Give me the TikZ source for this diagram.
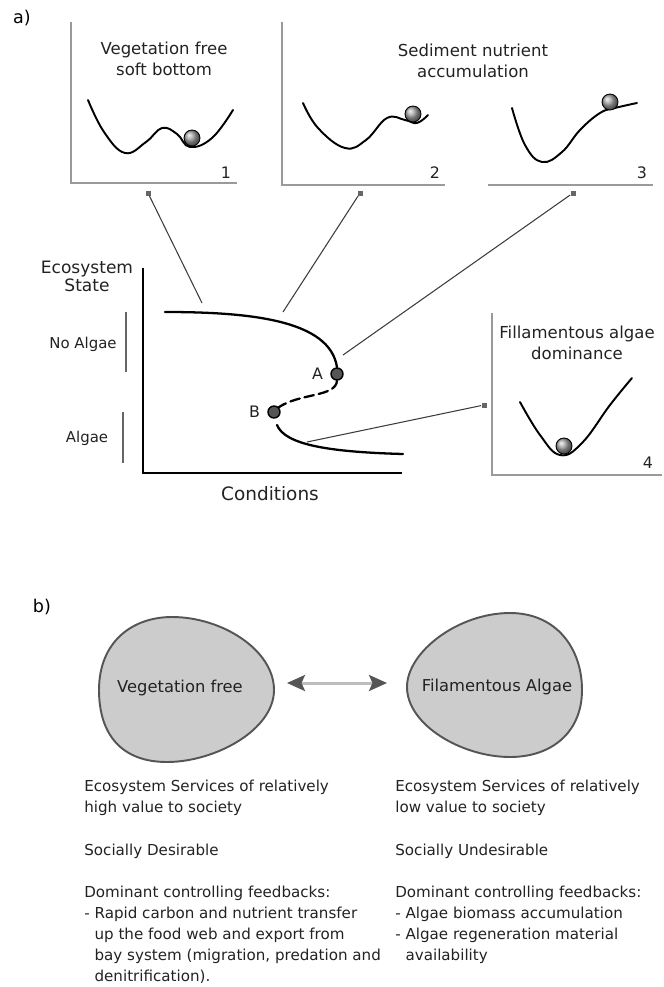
\documentclass[tikz,border=0pt]{standalone}
\usepackage{fontspec}
\setmainfont{DejaVu Sans}
\usetikzlibrary{arrows.meta,positioning}
\definecolor{axGray}{HTML}{9A9A9A}
\definecolor{inkDark}{HTML}{222222}
\definecolor{leadGray}{HTML}{3C3C3C}
\definecolor{blobFill}{HTML}{CCCCCC}
\definecolor{blobEdge}{HTML}{555555}
\definecolor{shaftGray}{HTML}{BDBDBD}
\definecolor{tipGray}{HTML}{555555}
\newcommand{\titlesize}{\fontsize{9.4}{11.8}\selectfont}
\newcommand{\capsize}{\fontsize{8.6}{12}\selectfont}
\tikzset{
  paneltitle/.style={align=center,font=\titlesize,text=inkDark,inner sep=0pt},
  panelnum/.style={font=\fontsize{9}{10}\selectfont,text=inkDark,inner sep=0pt},
  panelaxis/.style={draw=axGray,line width=1.2pt},
  wellcurve/.style={draw=black,line width=1.1pt,line cap=round},
  marble/.style={circle,draw=black,line width=0.5pt,ball color=gray!70,
    minimum size=0.32cm,inner sep=0pt},
  sqmark/.style={rectangle,fill=gray!80!black,minimum size=0.1cm,inner sep=0pt},
  leader/.style={draw=leadGray,line width=0.6pt},
  mainaxis/.style={draw=black,line width=1.4pt},
  branch/.style={draw=black,line width=1.3pt,line cap=round},
  statedot/.style={circle,draw=black,fill=tipGray,line width=0.8pt,
    minimum size=0.24cm,inner sep=0pt},
  dotlabel/.style={font=\fontsize{9}{10}\selectfont,text=inkDark,inner sep=0pt},
  axlabel/.style={align=center,text=inkDark,inner sep=0pt},
  rangebar/.style={draw=gray!80!black,line width=0.8pt},
  blob/.style={draw=blobEdge,fill=blobFill,line width=1.1pt},
  blobtext/.style={font=\fontsize{9.3}{11}\selectfont,text=inkDark},
  caption/.style={anchor=north west,align=left,inner sep=0pt,font=\capsize,text=inkDark},
  swaparrow/.style={draw=shaftGray,line width=1.7pt,
    >={Stealth[length=0.36cm,width=0.32cm,inset=0.07cm,color=tipGray]},<->}
}

\begin{document}
\begin{tikzpicture}[x=0.02cm,y=-0.02cm]
  \useasboundingbox (0,0) rectangle (663,987);

  % a) landscapes
  \node[font=\fontsize{10}{12}\selectfont] (parta) at (22,18) {a)};
  \draw[panelaxis] (71,22) -- (71,183) -- (237,183);
  \draw[panelaxis] (282,22) -- (282,185) -- (445,185);
  \draw[panelaxis] (488,185) -- (653,185);
  \draw[panelaxis] (492,313) -- (492,475) -- (662,475);

  \node[paneltitle] (t1) at (164,59) {Vegetation free\\soft bottom};
  \node[paneltitle] (t2) at (473,61) {Sediment nutrient\\accumulation};
  \node[paneltitle] (t4) at (577,343) {Fillamentous algae\\dominance};

  \draw[wellcurve] plot[smooth,tension=0.7] coordinates {(88,100) (104,132) (125,153)
    (146,142) (162,128) (177,134) (190,147) (212,138) (233,110)};
  \draw[wellcurve] plot[smooth,tension=0.7] coordinates {(303,103) (318,128) (345,148)
    (366,140) (387,118) (405,120) (417,123) (428,115)};
  \draw[wellcurve] plot[smooth,tension=0.7] coordinates {(512,108) (525,145) (542,162)
    (562,152) (580,130) (600,113) (615,108) (637,103)};
  \draw[wellcurve] plot[smooth,tension=0.7] coordinates {(520,402) (540,435) (560,455)
    (582,443) (610,405) (632,378)};

  \node[marble] (b1) at (192,138) {};
  \node[marble] (b2) at (413,114) {};
  \node[marble] (b3) at (610,102) {};
  \node[marble] (b4) at (564,446) {};

  \node[panelnum] (n1) at (226,173) {1};
  \node[panelnum] (n2) at (435,173) {2};
  \node[panelnum] (n3) at (642,173) {3};
  \node[panelnum] (n4) at (648,463) {4};

  % state diagram
  \draw[mainaxis] (143,268) -- (143,473) -- (402,473);
  \node[axlabel,font=\fontsize{9.7}{9.2}\selectfont] (ylab) at (87,276) {Ecosystem\\State};
  \node[axlabel,font=\fontsize{10.5}{12}\selectfont] (xlab) at (270,494) {Conditions};
  \node[axlabel,font=\fontsize{8.5}{10}\selectfont] (noalg) at (83,344) {No Algae};
  \node[axlabel,font=\fontsize{8.5}{10}\selectfont] (alg) at (87,438) {Algae};
  \draw[rangebar] (126,312) -- (126,372);
  \draw[rangebar] (123,412) -- (123,463);

  \node[statedot] (A) at (337,374) {};
  \node[statedot] (B) at (274,412) {};
  \node[dotlabel,left=4pt of A] (Alab) {A};
  \node[dotlabel,left=4pt of B] (Blab) {B};
  \draw[branch] (165,312) .. controls (250,312) and (330,320) .. (A.north);
  \draw[branch,dash pattern=on 5.5pt off 2.8pt] (A.south) .. controls (336,397) and (300,393) .. (B.north east);
  \draw[branch] (277,425) .. controls (285,445) and (330,452) .. (403,454);

  \node[sqmark] (m1) at (148,193) {};
  \node[sqmark] (m2) at (360,193) {};
  \node[sqmark] (m3) at (573,193) {};
  \node[sqmark] (m4) at (484,405) {};
  \coordinate (c1) at (202,303);
  \coordinate (c2) at (283,312);
  \coordinate (c3) at (343,355);
  \coordinate (c4) at (307,442);
  \draw[leader] (m1) -- (c1);
  \draw[leader] (m2) -- (c2);
  \draw[leader] (m3) -- (c3);
  \draw[leader] (m4) -- (c4);

  % b) two regimes
  \node[font=\fontsize{10}{12}\selectfont] (partb) at (42,607) {b)};
  \draw[blob] (99,690) .. controls (99,642) and (132,617) .. (172,617)
    .. controls (222,617) and (274,650) .. (274,690)
    .. controls (274,730) and (215,762) .. (167,762)
    .. controls (122,762) and (99,735) .. (99,690) -- cycle;
  \draw[blob] (407,687) .. controls (407,652) and (458,613) .. (510,613)
    .. controls (556,613) and (582,648) .. (582,690)
    .. controls (582,732) and (552,757) .. (510,757)
    .. controls (462,757) and (407,725) .. (407,687) -- cycle;
  \node[blobtext] (vf) at (180,688) {Vegetation free};
  \node[blobtext] (fa) at (497,687) {Filamentous Algae};
  \coordinate (vfR) at (287,683);
  \coordinate (faL) at (387,683);
  \draw[swaparrow] (vfR) -- (faL);

  \node[caption] (vfnote) at (84,780) {Ecosystem Services of relatively\\
    high value to society\\[12pt]
    Socially Desirable\\[12pt]
    Dominant controlling feedbacks:\\
    - Rapid carbon and nutrient transfer\\
    \phantom{- }up the food web and export from\\
    \phantom{- }bay system (migration, predation and\\
    \phantom{- }denitrification).};
  \node[caption] (fanote) at (395,780) {Ecosystem Services of relatively\\
    low value to society\\[12pt]
    Socially Undesirable\\[12pt]
    Dominant controlling feedbacks:\\
    - Algae biomass accumulation\\
    - Algae regeneration material\\
    \phantom{- }availability};
\end{tikzpicture}
\end{document}
